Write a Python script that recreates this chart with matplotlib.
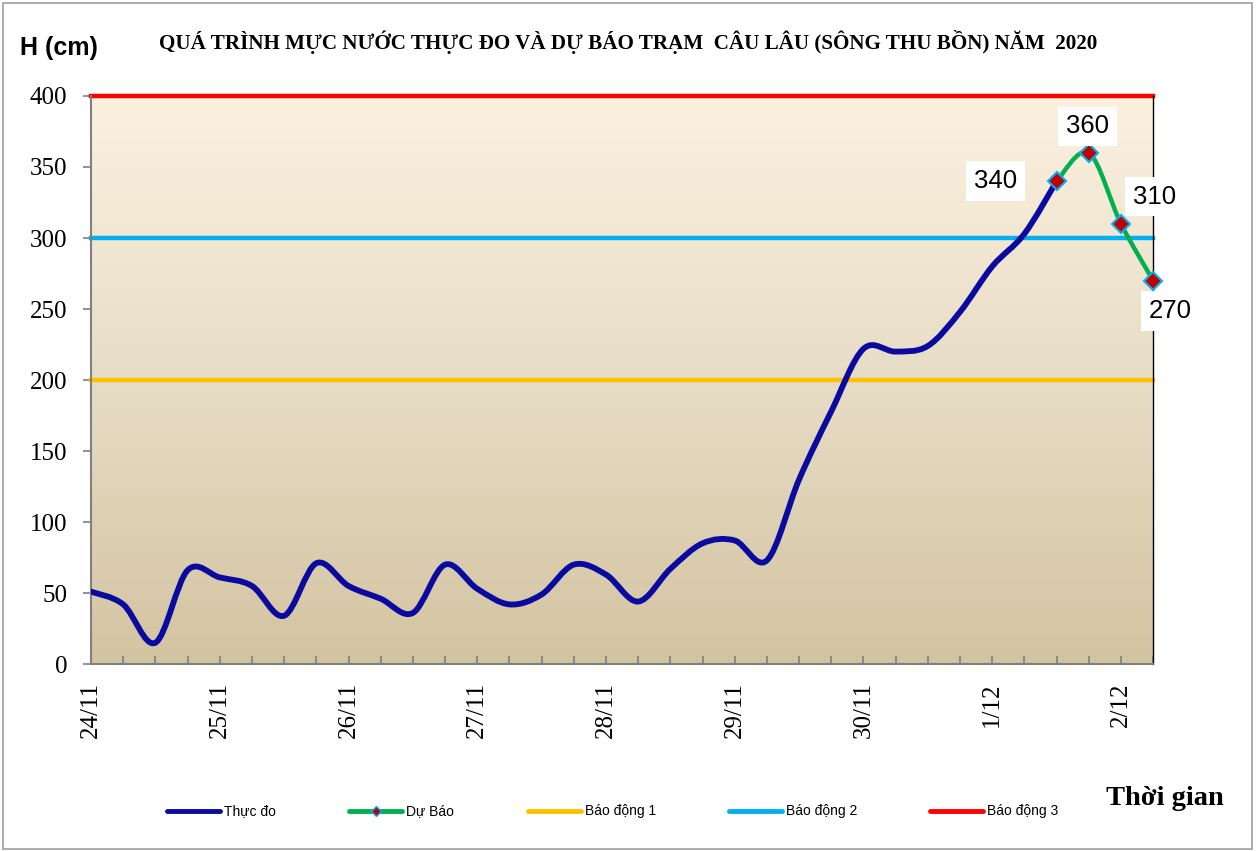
import numpy as np
import matplotlib
matplotlib.use("Agg")
import matplotlib.pyplot as plt
from matplotlib.path import Path
from matplotlib.patches import PathPatch, Rectangle
from matplotlib.lines import Line2D
from matplotlib.colors import LinearSegmentedColormap

# 6-hourly observations (index 0 = 24/11 00h)
thuc_do = [51, 42, 15, 66, 61, 55, 34, 71, 55, 46, 36, 70, 53, 42, 49, 70,
           63, 44, 67, 85, 87, 73, 130, 178, 222, 220, 224, 248, 280, 303, 340]
du_bao_idx = [30, 31, 32, 33]
du_bao = [340, 360, 310, 270]
n_points = 34
day_labels = ["24/11", "25/11", "26/11", "27/11", "28/11", "29/11", "30/11", "1/12", "2/12"]
bao_dong = [200, 300, 400]
bao_dong_names = ["Báo động 1", "Báo động 2", "Báo động 3"]
bao_dong_colors = ["#FFC000", "#00B0F0", "#FF0000"]


def smooth_path(xs, ys):
    # catmull-rom style smoothing like excel's smoothed line
    pts = np.column_stack([xs, ys]).astype(float)
    p = np.vstack([pts[0], pts, pts[-1]])
    verts = [pts[0]]
    codes = [Path.MOVETO]
    for i in range(1, len(p) - 2):
        c1 = p[i] + (p[i + 1] - p[i - 1]) / 6.0
        c2 = p[i + 1] - (p[i + 2] - p[i]) / 6.0
        verts += [c1, c2, p[i + 1]]
        codes += [Path.CURVE4] * 3
    return Path(verts, codes)


fig = plt.figure(figsize=(12.57, 8.51), dpi=100)
fig.patches.append(Rectangle((0.002, 0.002), 0.994, 0.994, transform=fig.transFigure,
                             fill=False, edgecolor="#A0A0A0", linewidth=1.2))

ax = fig.add_axes([0.0724, 0.2197, 0.845, 0.6675])
ax.set_xlim(0, n_points - 1)
ax.set_ylim(0, 400)

# background gradient
grad = np.linspace(0, 1, 256).reshape(-1, 1)
cmap = LinearSegmentedColormap.from_list("bg", ["#D3C4A1", "#E7DDC6", "#FCF1DF"])
ax.imshow(grad, aspect="auto", cmap=cmap, origin="lower",
          extent=[0, n_points - 1, 0, 400], zorder=0)

for val, col in zip(bao_dong, bao_dong_colors):
    ax.axhline(val, color=col, linewidth=3.2, zorder=2, clip_on=False)

x_obs = np.arange(len(thuc_do))
ax.add_patch(PathPatch(smooth_path(x_obs, thuc_do), fill=False, edgecolor="#0A0AA0",
                       linewidth=4.2, capstyle="round", joinstyle="round", zorder=3))
ax.add_patch(PathPatch(smooth_path(du_bao_idx, du_bao), fill=False, edgecolor="#00B050",
                       linewidth=3.2, capstyle="round", zorder=4))
ax.plot(du_bao_idx, du_bao, linestyle="none", marker="D", markersize=9,
        markerfacecolor="#C00000", markeredgecolor="#00B0F0", markeredgewidth=1.5,
        zorder=5, clip_on=False)

# data labels
lab_off = [(-44, 0), (-1, 19), (24, 19.5), (12, -22)]
for xi, yi, (dx, dy) in zip(du_bao_idx, du_bao, lab_off):
    ax.annotate(str(yi), (xi, yi), xytext=(dx, dy), textcoords="offset points",
                ha="center", va="center", fontsize=18.5, family="Liberation Sans",
                bbox=dict(boxstyle="square,pad=0.3", facecolor="white", edgecolor="none"),
                zorder=6, annotation_clip=False)

ax.set_yticks(np.arange(0, 401, 50))
ax.set_yticklabels([str(v) for v in range(0, 401, 50)], fontsize=18, family="Liberation Serif")
ax.tick_params(axis="y", direction="out", length=6, color="#808080", width=1.2, pad=11)

ax.set_xticks(np.arange(1, n_points), minor=True)
ax.set_xticks(np.arange(0, n_points, 4))
ax.set_xticklabels(day_labels, rotation=90, fontsize=18, family="Liberation Serif")
ax.tick_params(axis="x", which="both", direction="in", length=6, color="#808080", width=1.2)
ax.tick_params(axis="x", which="major", pad=13)

for s in ["left", "bottom"]:
    ax.spines[s].set_color("#808080")
    ax.spines[s].set_linewidth(1.5)
ax.spines["top"].set_visible(False)
ax.spines["right"].set_color("black")
ax.spines["right"].set_linewidth(1.0)

fig.text(0.4995, 0.951, "QUÁ TRÌNH MỰC NƯỚC THỰC ĐO VÀ DỰ BÁO TRẠM  CÂU LÂU (SÔNG THU BỒN) NĂM  2020",
         ha="center", va="center", fontsize=15.2, fontweight="bold", family="Liberation Serif")
fig.text(0.016, 0.944, "H (cm)", ha="left", va="center", fontsize=18, fontweight="bold",
         family="Liberation Sans")
fig.text(0.9735, 0.062, "Thời gian", ha="right", va="center", fontsize=20.5, fontweight="bold",
         family="Liberation Serif")

# legend drawn item by item (excel spacing is uneven)
handles = [Line2D([0, 1], [0, 0], color="#0A0AA0", linewidth=3.5),
           Line2D([0, 0.5, 1], [0, 0, 0], color="#00B050", linewidth=3.5, marker="D",
                  markersize=5, markevery=[1], markerfacecolor="#C00000",
                  markeredgecolor="#00B0F0")]
handles += [Line2D([0, 1], [0, 0], color=c, linewidth=3.5) for c in bao_dong_colors]
labels = ["Thực đo", "Dự Báo"] + bao_dong_names
leg_x = [167, 349, 528, 729, 930]
leg_y = 1 - 811 / 851
for h, lab, x0 in zip(handles, labels, leg_x):
    xs = np.array(h.get_xdata(), dtype=float)
    line = Line2D((x0 + xs * 53) / 1257, [leg_y] * len(xs), transform=fig.transFigure,
                  color=h.get_color(), linewidth=3.5, solid_capstyle="round",
                  marker=h.get_marker(), markersize=5, markevery=h.get_markevery(),
                  markerfacecolor="#C00000", markeredgecolor="#00B0F0")
    fig.lines.append(line)
    fig.text((x0 + 57) / 1257, leg_y, lab, ha="left", va="center", fontsize=10,
             family="Liberation Sans")

fig.savefig("out.png", dpi=100)
